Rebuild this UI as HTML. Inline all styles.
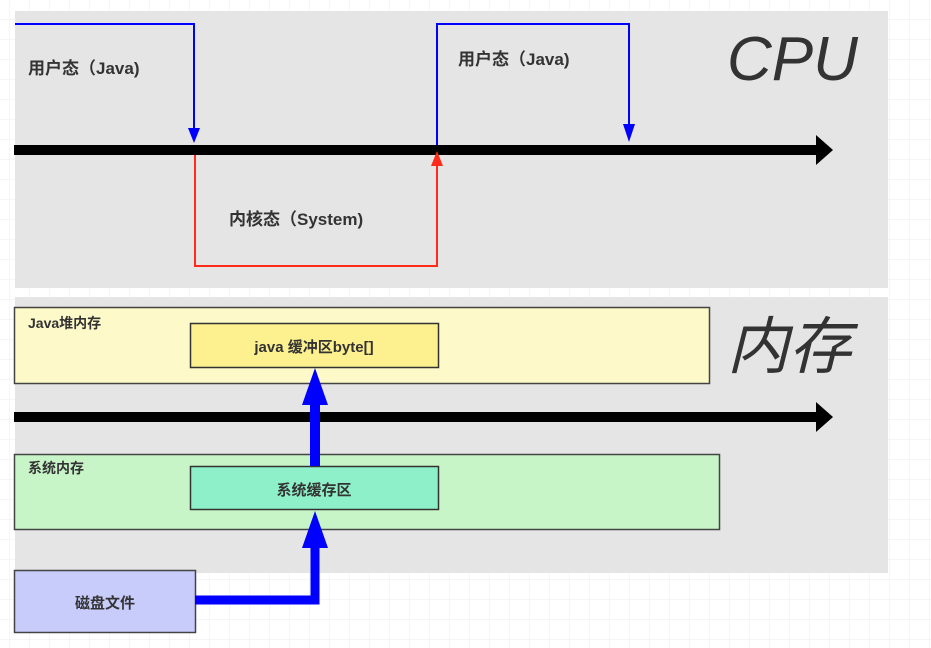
<!DOCTYPE html>
<html><head><meta charset="utf-8"><style>
html,body{margin:0;padding:0;width:931px;height:648px;overflow:hidden;background:#fff}
svg text{font-family:"Liberation Sans","Noto Sans CJK SC",sans-serif}
</style></head><body>
<svg width="931" height="648" viewBox="0 0 931 648" xmlns="http://www.w3.org/2000/svg">
<defs>
<pattern id="g" width="20" height="20" patternUnits="userSpaceOnUse" x="10" y="0">
<path d="M20 0V20M0 20H20" stroke="#ececec" stroke-width="1" fill="none"/></pattern>
</defs>
<rect width="931" height="648" fill="url(#g)"/>
<rect x="15" y="11" width="873" height="277" fill="#e5e5e5"/>
<rect x="15" y="297" width="873" height="276" fill="#e5e5e5"/>

<!-- CPU axis -->
<rect x="14" y="145" width="806" height="10" fill="#000"/>
<polygon points="816,135 833,150 816,165" fill="#000"/>
<!-- blue user 1 -->
<polyline points="15,24 194,24 194,132" fill="none" stroke="#0000ff" stroke-width="2"/>
<polygon points="188,128 200,128 194,143" fill="#0000ff"/>
<!-- red kernel -->
<polyline points="195,155 195,266 437,266 437,163" fill="none" stroke="#ff2a1a" stroke-width="2"/>
<polygon points="431,166 443,166 437,151" fill="#ff2a1a"/>
<!-- blue user 2 -->
<polyline points="437,145 437,24 629,24 629,132" fill="none" stroke="#0000ff" stroke-width="2"/>
<polygon points="623,124 635,124 629,142" fill="#0000ff"/>
<text x="28" y="74" font-size="17" font-weight="bold" fill="#333">用户态（Java)</text>
<text x="458" y="65" font-size="17" font-weight="bold" fill="#333">用户态（Java)</text>
<text x="229" y="225" font-size="17" font-weight="bold" fill="#333">内核态（System)</text>
<text x="727" y="80" font-size="62" font-style="italic" fill="#333">CPU</text>

<!-- memory -->
<rect x="14.5" y="307.5" width="695" height="76" fill="#fdf9c9" stroke="#444" stroke-width="1.5"/>
<text x="28" y="328" font-size="14" font-weight="bold" fill="#333">Java堆内存</text>
<rect x="190.5" y="323.5" width="248" height="44" fill="#fcf08f" stroke="#333" stroke-width="1.5"/>
<text x="314" y="352" font-size="15" font-weight="bold" fill="#333" text-anchor="middle">java 缓冲区byte[]</text>
<text x="727" y="368" font-size="62" font-style="italic" fill="#333">内存</text>
<rect x="14" y="412" width="806" height="10" fill="#000"/>
<polygon points="816,402 833,417 816,432" fill="#000"/>

<rect x="14.5" y="454.5" width="705" height="75" fill="#c8f5c8" stroke="#444" stroke-width="1.5"/>
<text x="28" y="473" font-size="14" font-weight="bold" fill="#333">系统内存</text>
<rect x="190.5" y="466.5" width="248" height="43" fill="#8ef0c9" stroke="#333" stroke-width="1.5"/>
<text x="314" y="495" font-size="15" font-weight="bold" fill="#333" text-anchor="middle">系统缓存区</text>

<rect x="14.5" y="570.5" width="181" height="62" fill="#c8ccfb" stroke="#444" stroke-width="1.5"/>
<text x="105" y="608" font-size="15" font-weight="bold" fill="#333" text-anchor="middle">磁盘文件</text>

<!-- thick blue arrows -->
<polyline points="195,600 315,600 315,530" fill="none" stroke="#0000ff" stroke-width="9"/>
<polygon points="302,548 328,548 315,511" fill="#0000ff"/>
<rect x="310" y="395" width="10" height="71" fill="#0000ff"/>
<polygon points="302,405 328,405 315,368" fill="#0000ff"/>
</svg>
</body></html>
